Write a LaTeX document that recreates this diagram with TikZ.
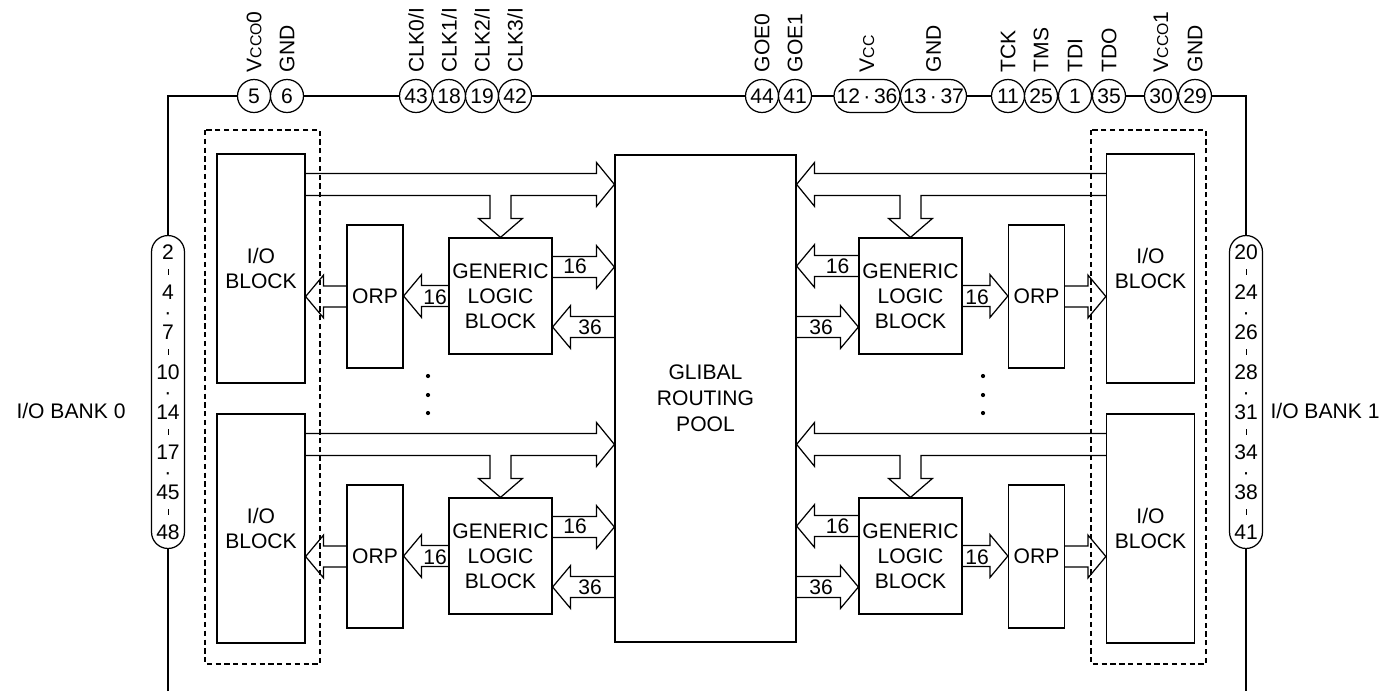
\documentclass[tikz,border=0pt]{standalone}
\usepackage{fontspec}
\setmainfont{Liberation Sans}
\usepackage{tikz}
\usetikzlibrary{calc,positioning}

% hollow bus arrow: from #1 to tip #2, #3 = 1 (right) or -1 (left)
\newcommand{\hbus}[3]{\draw ($(#1)+(0,-10.5)$) -- ($(#2)+({-18*(#3)},-10.5)$) -- ($(#2)+({-18*(#3)},-21.5)$) -- (#2) -- ($(#2)+({-18*(#3)},21.5)$) -- ($(#2)+({-18*(#3)},10.5)$) -- ($(#1)+(0,10.5)$);}
% hollow bus arrow with a branch down to #3
\newcommand{\tbus}[4]{\draw ($(#1)+(0,-11)$) -- ($(#2)+({-18*(#4)},-11)$) -- ($(#2)+({-18*(#4)},-22)$) -- (#2) -- ($(#2)+({-18*(#4)},22)$) -- ($(#2)+({-18*(#4)},11)$) -- ($(#3 |- #1)+({10.5*(#4)},11)$) -- ($(#3)+({10.5*(#4)},-19)$) -- ($(#3)+({22*(#4)},-19)$) -- (#3) -- ($(#3)+({-22*(#4)},-19)$) -- ($(#3)+({-10.5*(#4)},-19)$) -- ($(#3 |- #1)+({-10.5*(#4)},11)$) -- ($(#1)+(0,11)$);}
\newcommand{\tick}{\rule[2.6pt]{0.5pt}{3.4pt}}

\begin{document}
\begin{tikzpicture}[x=0.02cm,y=-0.02cm,line width=0.7pt,
  every node/.style={font=\fontsize{12}{14.3}\selectfont},
  blk/.style={draw, inner sep=0pt, align=center},
  ioblk/.style={blk, minimum width=1.76cm, minimum height=4.58cm},
  orpblk/.style={blk, minimum width=1.12cm, minimum height=2.86cm},
  glbblk/.style={blk, minimum width=2.06cm, minimum height=2.32cm},
  pin/.style={circle, draw, fill=white, minimum size=0.66cm, inner sep=0pt},
  wpin/.style={rectangle, rounded corners=0.33cm, draw, fill=white, minimum width=1.32cm, minimum height=0.66cm, inner sep=0pt},
  pinlbl/.style={rotate=90, anchor=west, inner sep=0pt},
  bank/.style={rectangle, rounded corners=0.33cm, draw, fill=white, minimum width=0.66cm, minimum height=6.26cm, inner sep=0pt, align=center, font=\fontsize{12}{11.38}\selectfont},
  num/.style={inner sep=0pt},
  fence/.style={dash pattern=on 3pt off 2pt}]
\useasboundingbox (0,0) rectangle (1383,691);

% chip outline
\draw (168,691) -- (168,96) -- (1246,96) -- (1246,691);

% top pins
\node[pin] (p5) at (254,96) {5};
\node[pin] (p6) at (287,96) {6};
\node[pin] (p43) at (416,96) {43};
\node[pin] (p18) at (449,96) {18};
\node[pin] (p19) at (482,96) {19};
\node[pin] (p42) at (515,96) {42};
\node[pin] (p44) at (762,96) {44};
\node[pin] (p41) at (795,96) {41};
\node[wpin] (p1236) at (867,96) {12\,·\,36};
\node[wpin] (p1337) at (933.5,96) {13\,·\,37};
\node[pin] (p11) at (1008,96) {11};
\node[pin] (p25) at (1041,96) {25};
\node[pin] (p1) at (1075,96) {1};
\node[pin] (p35) at (1109,96) {35};
\node[pin] (p30) at (1161,96) {30};
\node[pin] (p29) at (1195,96) {29};

\node[above=0.12cm of p5, pinlbl] (l5) {V{\fontsize{9}{9}\selectfont CCO}0};
\node[above=0.12cm of p6, pinlbl] (l6) {GND};
\node[above=0.12cm of p43, pinlbl] (l43) {CLK0/I};
\node[above=0.12cm of p18, pinlbl] (l18) {CLK1/I};
\node[above=0.12cm of p19, pinlbl] (l19) {CLK2/I};
\node[above=0.12cm of p42, pinlbl] (l42) {CLK3/I};
\node[above=0.12cm of p44, pinlbl] (l44) {GOE0};
\node[above=0.12cm of p41, pinlbl] (l41) {GOE1};
\node[above=0.12cm of p1236, pinlbl] (l1236) {V{\fontsize{9}{9}\selectfont CC}};
\node[above=0.12cm of p1337, pinlbl] (l1337) {GND};
\node[above=0.12cm of p11, pinlbl] (l11) {TCK};
\node[above=0.12cm of p25, pinlbl] (l25) {TMS};
\node[above=0.12cm of p1, pinlbl] (l1) {TDI};
\node[above=0.12cm of p35, pinlbl] (l35) {TDO};
\node[above=0.12cm of p30, pinlbl] (l30) {V{\fontsize{9}{9}\selectfont CCO}1};
\node[above=0.12cm of p29, pinlbl] (l29) {GND};

% side pins
\node[bank] (pinsL) at (168,392) {2\\\tick\\4\\·\\7\\\tick\\10\\·\\14\\\tick\\17\\·\\45\\\tick\\48};
\node[bank] (pinsR) at (1246,392) {20\\\tick\\24\\·\\26\\\tick\\28\\·\\31\\\tick\\34\\·\\38\\\tick\\41};
\node (bank0) at (71,411) {I/O BANK 0};
\node (bank1) at (1325,411) {I/O BANK 1};

% dashed groups
\draw[fence] (205,130) rectangle (320,664);
\draw[fence] (1091,130) rectangle (1206,664);

% blocks
\node[blk, minimum width=3.62cm, minimum height=9.74cm, font=\fontsize{12}{14.8}\selectfont] (grp) at (705.5,398.5) {GLIBAL\\ROUTING\\POOL};
\node[ioblk] (ioL1) at (261,268.5) {I/O\\BLOCK};
\node[ioblk] (ioL2) at (261,528.5) {I/O\\BLOCK};
\node[orpblk] (orpL1) at (375,296.5) {ORP};
\node[orpblk] (orpL2) at (375,556.5) {ORP};
\node[glbblk] (glbL1) at (500.5,296) {GENERIC\\LOGIC\\BLOCK};
\node[glbblk] (glbL2) at (500.5,556) {GENERIC\\LOGIC\\BLOCK};
\node[glbblk] (glbR1) at (910.5,296) {GENERIC\\LOGIC\\BLOCK};
\node[glbblk] (glbR2) at (910.5,556) {GENERIC\\LOGIC\\BLOCK};
\node[orpblk] (orpR1) at (1036.5,296.5) {ORP};
\node[orpblk] (orpR2) at (1036.5,556.5) {ORP};
\node[ioblk] (ioR1) at (1150.5,268.5) {I/O\\BLOCK};
\node[ioblk] (ioR2) at (1150.5,528.5) {I/O\\BLOCK};

% buses, left
\coordinate (busL1) at ($(ioL1.north east)+(0,31)$);
\coordinate (busL2) at ($(ioL2.north east)+(0,31)$);
\tbus{busL1}{grp.west |- busL1}{glbL1.north}{1}
\tbus{busL2}{grp.west |- busL2}{glbL2.north}{1}
\coordinate (upL1) at ($(glbL1.east)+(0,-29)$);
\coordinate (upL2) at ($(glbL2.east)+(0,-29)$);
\hbus{upL1}{grp.west |- upL1}{1}
\hbus{upL2}{grp.west |- upL2}{1}
\coordinate (dnL1) at ($(grp.west |- glbL1.east)+(0,31)$);
\coordinate (dnL2) at ($(grp.west |- glbL2.east)+(0,31)$);
\hbus{dnL1}{glbL1.east |- dnL1}{-1}
\hbus{dnL2}{glbL2.east |- dnL2}{-1}
\hbus{glbL1.west}{orpL1.east |- glbL1.west}{-1}
\hbus{glbL2.west}{orpL2.east |- glbL2.west}{-1}
\hbus{orpL1.west}{ioL1.east |- orpL1.west}{-1}
\hbus{orpL2.west}{ioL2.east |- orpL2.west}{-1}

% buses, right
\coordinate (busR1) at ($(ioR1.north west)+(0,31)$);
\coordinate (busR2) at ($(ioR2.north west)+(0,31)$);
\tbus{busR1}{grp.east |- busR1}{glbR1.north}{-1}
\tbus{busR2}{grp.east |- busR2}{glbR2.north}{-1}
\coordinate (upR1) at ($(glbR1.west)+(0,-30)$);
\coordinate (upR2) at ($(glbR2.west)+(0,-30)$);
\hbus{upR1}{grp.east |- upR1}{-1}
\hbus{upR2}{grp.east |- upR2}{-1}
\coordinate (dnR1) at ($(grp.east |- glbR1.west)+(0,31)$);
\coordinate (dnR2) at ($(grp.east |- glbR2.west)+(0,31)$);
\hbus{dnR1}{glbR1.west |- dnR1}{1}
\hbus{dnR2}{glbR2.west |- dnR2}{1}
\hbus{glbR1.east}{orpR1.west |- glbR1.east}{1}
\hbus{glbR2.east}{orpR2.west |- glbR2.east}{1}
\hbus{orpR1.east}{ioR1.west |- orpR1.east}{1}
\hbus{orpR2.east}{ioR2.west |- orpR2.east}{1}

% bus widths
\node[num] (wL1a) at (575,266) {16};
\node[num] (wL1b) at (590,327) {36};
\node[num] (wL1c) at (435,297) {16};
\node[num] (wL2a) at (575,526) {16};
\node[num] (wL2b) at (590,587) {36};
\node[num] (wL2c) at (435,557) {16};
\node[num] (wR1a) at (837.5,266) {16};
\node[num] (wR1b) at (821,327) {36};
\node[num] (wR1c) at (977,297) {16};
\node[num] (wR2a) at (837.5,526) {16};
\node[num] (wR2b) at (821,587) {36};
\node[num] (wR2c) at (977,557) {16};

% more blocks
\fill (428,376) circle[radius=1.2pt] (428,395) circle[radius=1.2pt] (428,413) circle[radius=1.2pt];
\fill (983,376) circle[radius=1.2pt] (983,395) circle[radius=1.2pt] (983,413) circle[radius=1.2pt];
\end{tikzpicture}
\end{document}
